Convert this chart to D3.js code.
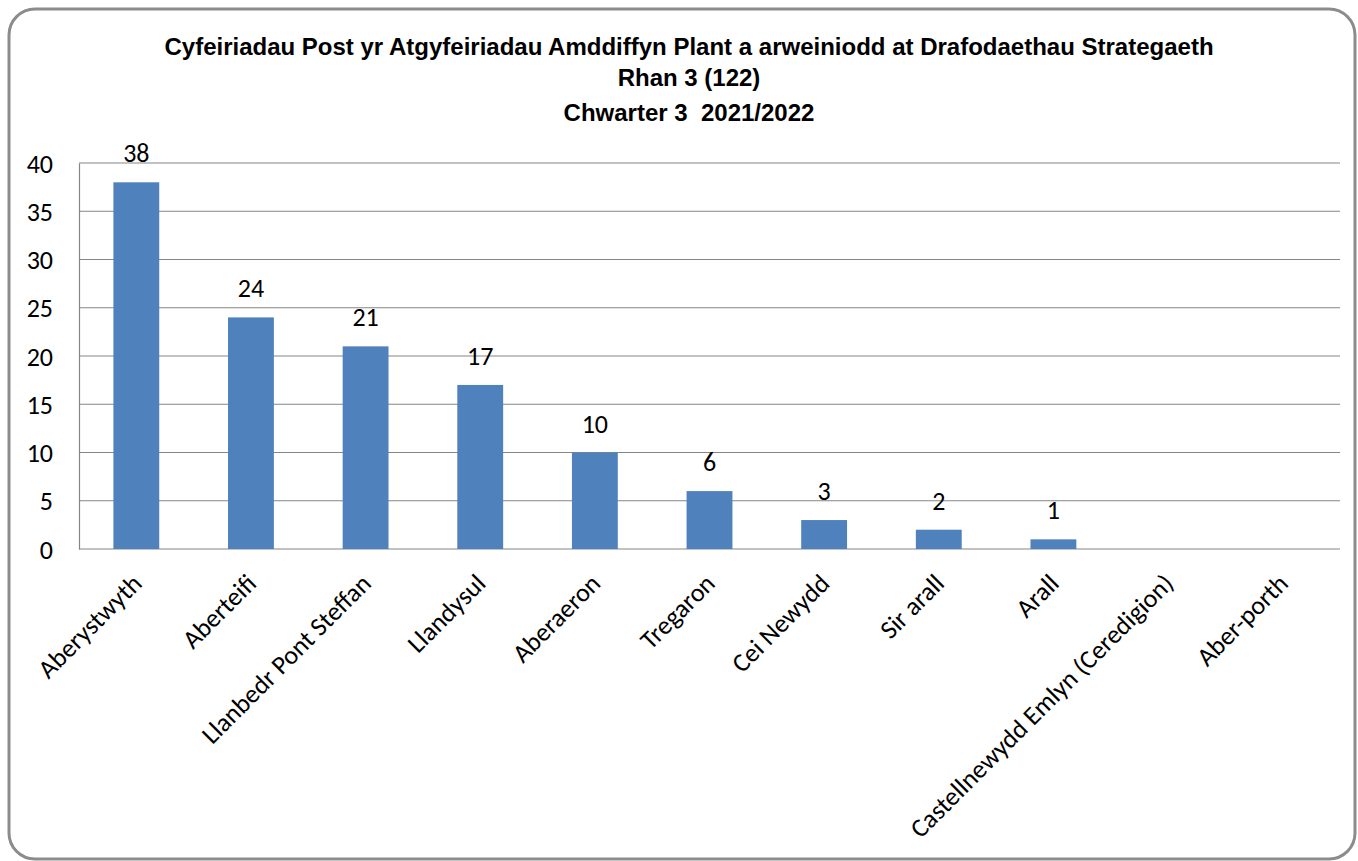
<!DOCTYPE html>
<html lang="cy">
<head>
<meta charset="UTF-8">
<title>Cyfeiriadau Post</title>
<style>
  body { margin: 0; background: #fff; }
  svg text { fill: #000; }
  .tick text, .val { font-family: Carlito, "Open Sans", "Noto Sans", sans-serif; font-size: 26px; }
  .cat { font-family: Carlito, "Open Sans", "Noto Sans", sans-serif; font-size: 26px; }
  .title { font-family: "Liberation Sans", Arial, sans-serif; font-weight: bold; font-size: 24px; }
</style>
</head>
<body>
<div id="chart"></div>
<script src="https://d3js.org/d3.v7.min.js"></script>
<script>
const categories = ["Aberystwyth", "Aberteifi", "Llanbedr Pont Steffan", "Llandysul", "Aberaeron",
  "Tregaron", "Cei Newydd", "Sir arall", "Arall", "Castellnewydd Emlyn (Ceredigion)", "Aber-porth"];
const values = [38, 24, 21, 17, 10, 6, 3, 2, 1, null, null];
const yTicks = [0, 5, 10, 15, 20, 25, 30, 35, 40];
const titleLines = [
  "Cyfeiriadau Post yr Atgyfeiriadau Amddiffyn Plant a arweiniodd at Drafodaethau Strategaeth",
  "Rhan 3 (122)",
  "Chwarter 3  2021/2022"
];

const W = 1358, H = 861;
const m = { left: 79, right: 1340, top: 163, bottom: 549 };

const svg = d3.select("#chart").append("svg")
  .attr("width", W).attr("height", H);

// outer frame
svg.append("rect")
  .attr("x", 9).attr("y", 9).attr("width", W - 12).attr("height", H - 11)
  .attr("rx", 26).attr("ry", 26)
  .attr("fill", "#fff").attr("stroke", "#8c8c8c").attr("stroke-width", 3);

// title
const titleY = [55, 86, 121];
svg.selectAll(".title").data(titleLines).enter().append("text")
  .attr("class", "title")
  .attr("x", 689).attr("y", (d, i) => titleY[i])
  .attr("text-anchor", "middle")
  .style("white-space", "pre")
  .text(d => d);

const x = d3.scaleBand().domain(categories)
  .range([m.left, m.right]).paddingInner(0.6).paddingOuter(0.3);
const y = d3.scaleLinear().domain([0, 40]).range([m.bottom, m.top]);

// gridlines
svg.append("g").selectAll("line").data(yTicks).enter().append("line")
  .attr("x1", m.left).attr("x2", m.right)
  .attr("y1", d => y(d)).attr("y2", d => y(d))
  .attr("stroke", "#868686").attr("stroke-width", 1.2);

// y axis
const yAxis = svg.append("g")
  .attr("transform", `translate(${m.left},0)`)
  .call(d3.axisLeft(y).tickValues(yTicks).tickSize(0).tickPadding(26));
yAxis.select(".domain").attr("stroke", "#868686").attr("stroke-width", 1.2);
yAxis.selectAll(".tick text").attr("font-family", null).attr("font-size", null)
  .attr("text-anchor", "end").attr("dy", "0.35em");

// bars
const data = categories.map((c, i) => ({ c, v: values[i] }));
svg.append("g").selectAll("rect").data(data.filter(d => d.v != null)).enter().append("rect")
  .attr("x", d => x(d.c)).attr("width", x.bandwidth())
  .attr("y", d => y(d.v)).attr("height", d => y(0) - y(d.v))
  .attr("fill", "#4f81bd");

// value labels
svg.append("g").selectAll("text").data(data.filter(d => d.v != null)).enter().append("text")
  .attr("class", "val")
  .attr("x", d => x(d.c) + x.bandwidth() / 2)
  .attr("y", d => y(d.v) - 20)
  .attr("text-anchor", "middle")
  .text(d => d.v);

// category labels
svg.append("g").selectAll("text").data(categories).enter().append("text")
  .attr("class", "cat")
  .attr("text-anchor", "end")
  .attr("transform", d => `translate(${x(d) + x.bandwidth() / 2 + 7},${m.bottom + 36}) rotate(-45)`)
  .text(d => d);
</script>
</body>
</html>
